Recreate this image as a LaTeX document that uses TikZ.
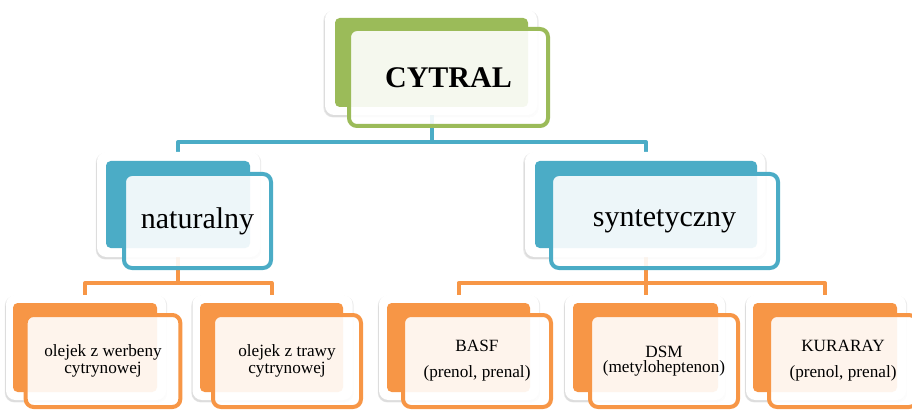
\documentclass[tikz,border=0pt]{standalone}
\usepackage{fontspec}
\setmainfont{Liberation Serif}
\usepackage{xcolor}
\usepackage{tikz}
\usetikzlibrary{calc}
\usetikzlibrary{shadows}
\definecolor{zielony}{HTML}{9BBB59}
\definecolor{niebieski}{HTML}{4BACC6}
\definecolor{pomarancz}{HTML}{F79646}
\pgfdeclarelayer{tlo}
\pgfsetlayers{tlo,main}

\begin{document}
\begin{tikzpicture}[x=0.75pt,y=-0.75pt,
	ramka/.style={rectangle,fill=white,rounded corners=7pt,inner sep=0pt,
		general shadow={shadow scale=1.015,shadow yshift=-1.2pt,opacity=0.08,fill=black},
		drop shadow={shadow xshift=-0.6pt,shadow yshift=-1.6pt,opacity=0.12}},
	spod/.style={rectangle,fill=#1,rounded corners=3.5pt,inner sep=0pt},
	wierzch/.style={rectangle,draw=#1,line width=3pt,fill=white,fill opacity=0.9,
		text opacity=1,rounded corners=6pt,inner sep=0pt,align=center},
	linia/.style={line width=3pt,line join=round,#1},
	duzy/.style={font=\fontsize{22.5}{27}\selectfont},
	maly/.style={font=\fontsize{12.9}{11}\selectfont}]
\useasboundingbox (0,0) rectangle (912,413);
\begin{scope} %CYTRAL
	\node[ramka,minimum width=159pt,minimum height=78.75pt] (Cr) at (431,62.5) {};
	\node[spod=zielony,minimum width=144.75pt,minimum height=66.75pt] (C) at (431.5,62.5) {};
	\node[wierzch=zielony,duzy,minimum width=149.25pt,minimum height=72.75pt] (Cf) at (448.5,77.5) {\bfseries CYTRAL};
\end{scope}
\begin{scope} %naturalny
	\node[ramka,minimum width=122.25pt,minimum height=78.75pt] (Nr) at (178.5,204.5) {};
	\node[spod=niebieski,minimum width=108pt,minimum height=65.25pt] (N) at (178,204.5) {};
	\node[wierzch=niebieski,duzy,minimum width=110.25pt,minimum height=70.5pt] (Nf) at (197.5,221) {naturalny};
\end{scope}
\begin{scope} %syntetyczny
	\node[ramka,minimum width=180pt,minimum height=78.75pt] (Sr) at (645,204.5) {};
	\node[spod=niebieski,minimum width=166.5pt,minimum height=65.25pt] (S) at (646,204.5) {};
	\node[wierzch=niebieski,duzy,minimum width=170.25pt,minimum height=70.5pt] (Sf) at (664.5,221) {syntetyczny};
\end{scope}
\begin{scope} %dolny rzad: naturalny
	\node[ramka,minimum width=120pt,minimum height=78.75pt] (N1r) at (86,347.5) {};
	\node[spod=pomarancz,minimum width=108pt,minimum height=66.75pt] (N1) at (85,347.5) {};
	\node[wierzch=pomarancz,maly,minimum width=116pt,minimum height=69pt] (N1f) at (103,361) {olejek z werbeny\\cytrynowej};
	\node[ramka,minimum width=120pt,minimum height=78.75pt] (N2r) at (272.5,347.5) {};
	\node[spod=pomarancz,minimum width=107.25pt,minimum height=66.75pt] (N2) at (271.5,347.5) {};
	\node[wierzch=pomarancz,maly,minimum width=111pt,minimum height=69pt] (N2f) at (287,361) {olejek z trawy\\cytrynowej};
\end{scope}
\begin{scope} %dolny rzad: syntetyczny
	\node[ramka,minimum width=120pt,minimum height=78.75pt] (S1r) at (459,347.5) {};
	\node[spod=pomarancz,minimum width=107.25pt,minimum height=66.75pt] (S1) at (458.5,347.5) {};
	\node[wierzch=pomarancz,maly,minimum width=111pt,minimum height=69pt] (S1f) at (477,361) {BASF\\[8.5pt](prenol, prenal)};
	\node[ramka,minimum width=120pt,minimum height=78.75pt] (S2r) at (645,347.5) {};
	\node[spod=pomarancz,minimum width=108.75pt,minimum height=66.75pt] (S2) at (645.5,347.5) {};
	\node[wierzch=pomarancz,maly,minimum width=111pt,minimum height=69pt] (S2f) at (664,361) {DSM\\[0.5pt](metyloheptenon)};
	\node[ramka,minimum width=120pt,minimum height=78.75pt] (S3r) at (826,347.5) {};
	\node[spod=pomarancz,minimum width=108pt,minimum height=66.75pt] (S3) at (825,347.5) {};
	\node[wierzch=pomarancz,maly,minimum width=111pt,minimum height=69pt] (S3f) at (843,361) {KURARAY\\[8.5pt](prenol, prenal)};
\end{scope}
\begin{pgfonlayer}{tlo} %linie
	\coordinate (P1) at (0,142);
	\coordinate (P2) at (0,283);
	\draw[linia=niebieski] (C.south) -- (C.south |- P1) -| (N.north);
	\draw[linia=niebieski] (C.south |- P1) -| (S.north);
	\draw[linia=pomarancz] (N.south) -- (N.south |- P2) -| (N1.north);
	\draw[linia=pomarancz] (N.south |- P2) -| (N2.north);
	\draw[linia=pomarancz] (S.south) -- (S.south |- P2) -| (S1.north);
	\draw[linia=pomarancz] (S.south |- P2) -| (S2.north);
	\draw[linia=pomarancz] (S.south |- P2) -| (S3.north);
\end{pgfonlayer}
\end{tikzpicture}
\end{document}
